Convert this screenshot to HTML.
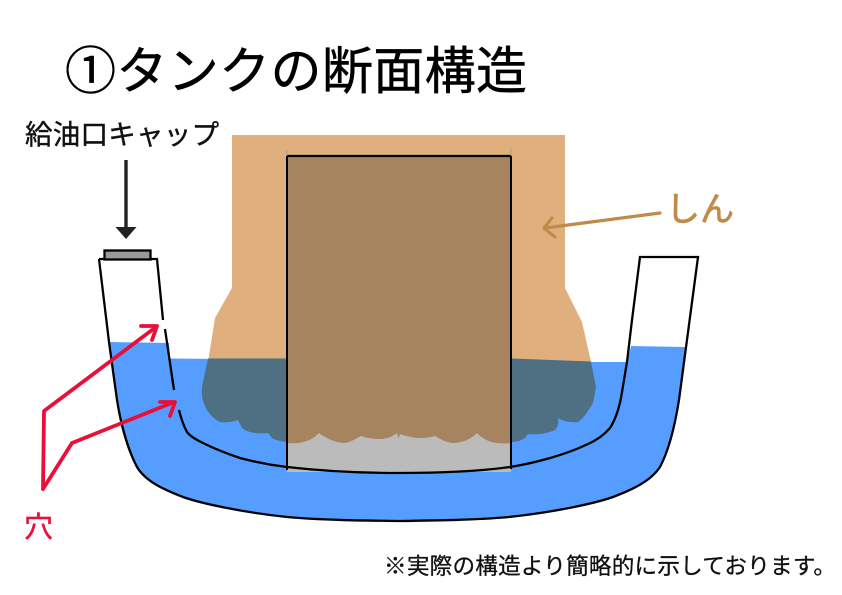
<!DOCTYPE html>
<html lang="ja">
<head>
<meta charset="utf-8">
<style>
html,body{margin:0;padding:0;background:#fff;width:842px;height:595px;overflow:hidden}
svg{display:block}
text{font-family:"Liberation Sans","Noto Sans CJK JP",sans-serif}
</style>
</head>
<body>
<svg width="842" height="595" viewBox="0 0 842 595" xmlns="http://www.w3.org/2000/svg">
<rect width="842" height="595" fill="#fff"/>

<!-- water -->
<path fill="#559EFF" d="M109 342L169 343L170 358.500L591 362L627 362L631 346L686 347L679 400C675 425 669 450 660 467C650 482 631 490 613 497C596 503 556 512 509 517C476 520 436 520.500 398 521C360 520.500 320 520 287 517C240 512 200 503 183 497C165 490 146 482 137 467C128 450 121 425 117 400Z"/>

<!-- wick -->
<path fill="#DFB07E" d="M232 135H565V288L582 322L591 362H208L215 318L232 288Z"/>
<path fill="#4E7082" d="M208 358.500L287 358.500H512L591 361.500L596 387L593 403C588 411 584 418 578 422C570 423 563 421 558 418C559 424 557 428 555 430C546 434 535 435 528 434L525 438C520 441 516 442 511 442H287C280 441 275 440 272 438L268 433C258 434 248 433 242 428L238 420C232 422 226 423 220 422C214 419 210 415 207 410C203 403 201 396 202 387Z"/>

<!-- center section -->
<rect x="287" y="156" width="224" height="316" fill="#BBBBBB"/>
<path fill="#A5845F" d="M287 156H511V443C505 444 502 443 497 443C488 442 482 438 477 433C471 439 463 443 452 443C445 442 440 439 435 436C428 438 423 438 417 438C411 437 405 436 400 434L398.500 439L397 433C392 437 386 439 380 439C373 439 367 438 361 436C355 439 351 442 345 443C335 443 326 438 319 433C314 438 309 441 303 442C297 444 292 443 287 443Z"/>

<!-- tank walls -->
<g fill="none" stroke="#000" stroke-linecap="butt" stroke-linejoin="miter">
<path stroke-width="2.300" d="M99 259L109 342L117 400C121 425 128 450 137 467C146 482 165 490 183 497C200 503 240 512 287 517C320 520 360 520.500 398 521C436 520.500 476 520 509 517C556 512 596 503 613 497C631 490 650 482 660 467C669 450 675 425 679 400L698 257H640L632 320L627 362L622 392C620 405 617 417 610 428C604 435 597 440 588 444C565 455 535 463 510 467C475 472 435 473 398 473C360 473 322 471 287 467C270 465 255 462 240 458C228 454 215 449 203 443C197 440 191 437 187 432C183 425 181 418 179 410"/>
<path stroke-width="2.300" d="M99 259H157L163 320"/>
<path stroke-width="2.300" d="M165 329L174 390"/>
<path stroke-width="2.300" d="M287 156H511"/>
<path stroke-width="2" d="M287 156V470M511 156V469"/>
<path stroke-width="0.500" stroke="#888" d="M287 150V156M511 148V156"/>
</g>

<!-- cap -->
<rect x="104.500" y="250.500" width="46" height="9" fill="#999" stroke="#000" stroke-width="2.300"/>

<!-- cap arrow -->
<path d="M126 160V230" stroke="#222" stroke-width="3.400" fill="none"/>
<path d="M115.500 227H136.500L126 239Z" fill="#222"/>

<!-- red arrows -->
<g fill="none" stroke="#EA0F38" stroke-width="3.800" stroke-linecap="round" stroke-linejoin="round">
<path d="M43 489L44 411L156 327"/>
<path d="M141 326L157 326L152 340"/>
<path d="M43 489L72 443L174 402"/>
<path d="M160 402L175 402L170 416"/>
</g>

<!-- wick arrow -->
<g fill="none" stroke="#C08A48" stroke-width="3.200" stroke-linecap="round" stroke-linejoin="round">
<path d="M660 213L545 228"/>
<path d="M552 218L544 228L555 237"/>
</g>

<!-- text -->
<text x="65" y="89" font-size="51" textLength="462" lengthAdjust="spacing" fill="#000" stroke="#000" stroke-width="0.500">①タンクの断面構造</text>
<text x="25" y="144" font-size="27.500" textLength="194" lengthAdjust="spacing" fill="#111" stroke="#111" stroke-width="0.400">給油口キャップ</text>
<text x="666" y="221" font-size="34" textLength="68" lengthAdjust="spacing" fill="#C08A48" stroke="#C08A48" stroke-width="0.800">しん</text>
<text x="24" y="537" font-size="29" fill="#EA0F38" stroke="#EA0F38" stroke-width="0.400">穴</text>
<text x="384" y="574" font-size="22.600" textLength="452" lengthAdjust="spacing" fill="#111" stroke="#111" stroke-width="0.300">※実際の構造より簡略的に示しております。</text>
</svg>
</body>
</html>
